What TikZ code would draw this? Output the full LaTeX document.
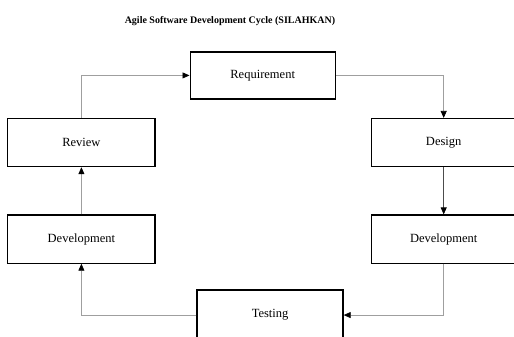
\documentclass[tikz,border=0pt]{standalone}
\usepackage{fontspec}
\setmainfont{Liberation Serif}
\usepackage{tikz}
\usetikzlibrary{arrows.meta, positioning}

\begin{document}
\begin{tikzpicture}[
        phase/.style={rectangle, draw=black, line width=1.2pt,
                      minimum width=5.1cm, minimum height=1.69cm,
                      font=\fontsize{12.5}{14}\selectfont, align=center},
        arr/.style={-{Triangle[length=7pt, width=6pt, black]},
                    draw=gray!75, line width=0.7pt},
      ]
        \useasboundingbox (0,0) rectangle (18.06,-11.81);

        \node[font=\bfseries\fontsize{10}{12}\selectfont] (title)
          at (8.08, -0.74) {Agile Software Development Cycle (SILAHKAN)};

        \node[phase, minimum height=1.65cm] (req) at (9.23, -2.65) {Requirement};
        \node[phase, minimum width=5.17cm] (review) at (2.86, -5.01) {Review};
        \node[phase] (design) at (15.59, -5.01) {Design};
        \node[phase, minimum width=5.17cm] (devl) at (2.86, -8.40) {Development};
        \node[phase] (devr) at (15.59, -8.40) {Development};
        \node[phase, minimum width=5.13cm, minimum height=1.76cm] (test)
          at (9.49, -11.07) {Testing};

        \draw[arr] (review.north) |- (req.west);
        \draw[arr] (req.east) -| (design.north);
        \draw[arr, draw=black!70] (design) -- (devr);
        \draw[arr] (devr.south) |- (test.east);
        \draw[arr] (test.west) -| (devl.south);
        \draw[arr] (devl) -- (review);
      \end{tikzpicture}
\end{document}
